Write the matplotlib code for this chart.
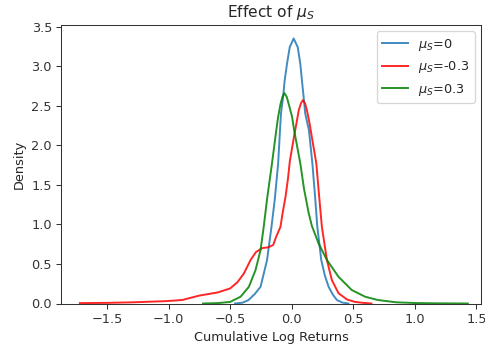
import matplotlib
matplotlib.use("Agg")
import matplotlib.pyplot as plt

# Density curves
blue_x = [-0.46, -0.40, -0.35, -0.30, -0.253, -0.20, -0.164, -0.137, -0.11, -0.095,
          -0.087, -0.07, -0.057, -0.038, -0.016, 0.016, 0.049, 0.07, 0.083, 0.097,
          0.11, 0.14, 0.168, 0.19, 0.208, 0.24, 0.27, 0.30, 0.335, 0.367, 0.41, 0.46]
blue_y = [0.0, 0.01, 0.044, 0.12, 0.21, 0.55, 0.97, 1.32, 1.77, 2.19,
          2.40, 2.61, 2.82, 3.03, 3.24, 3.35, 3.24, 3.03, 2.82, 2.61,
          2.40, 2.19, 1.77, 1.35, 0.97, 0.55, 0.35, 0.21, 0.11, 0.044, 0.012, 0.0]

red_x = [-1.72, -1.50, -1.29, -1.02, -0.89, -0.75, -0.60, -0.50, -0.44, -0.388,
         -0.334, -0.29, -0.24, -0.19, -0.15, -0.127, -0.091, -0.073, -0.05, -0.03,
         -0.015, 0.02, 0.038, 0.057, 0.075, 0.091, 0.108, 0.124, 0.146, 0.164,
         0.20, 0.222, 0.245, 0.286, 0.326, 0.38, 0.45, 0.515, 0.58, 0.647]
red_y = [0.005, 0.008, 0.015, 0.03, 0.044, 0.10, 0.14, 0.19, 0.27, 0.38,
         0.55, 0.65, 0.70, 0.71, 0.74, 0.84, 0.97, 1.15, 1.35, 1.58,
         1.80, 2.12, 2.27, 2.44, 2.53, 2.57, 2.53, 2.44, 2.27, 2.10,
         1.77, 1.37, 0.97, 0.55, 0.296, 0.13, 0.05, 0.02, 0.008, 0.0]

green_x = [-0.72, -0.60, -0.50, -0.415, -0.348, -0.294, -0.253, -0.227, -0.20, -0.16,
           -0.125, -0.11, -0.091, -0.075, -0.059, -0.04, -0.024, 0.003, 0.02, 0.07,
           0.10, 0.137, 0.164, 0.218, 0.286, 0.38, 0.488, 0.596, 0.70, 0.85,
           1.0, 1.2, 1.43]
green_y = [0.0, 0.005, 0.02, 0.086, 0.21, 0.42, 0.675, 0.97, 1.32, 1.77,
           2.19, 2.36, 2.52, 2.61, 2.66, 2.61, 2.52, 2.36, 2.19, 1.77,
           1.45, 1.15, 0.98, 0.76, 0.55, 0.338, 0.17, 0.086, 0.044, 0.015,
           0.006, 0.002, 0.0]

labels = [r'$\mu_S$=0', r'$\mu_S$=-0.3', r'$\mu_S$=0.3']
xticks = [-1.5, -1.0, -0.5, 0.0, 0.5, 1.0, 1.5]
yticks = [0.0, 0.5, 1.0, 1.5, 2.0, 2.5, 3.0, 3.5]

txt = '#262626'
plt.rcParams.update({'text.color': txt, 'axes.labelcolor': txt,
                     'xtick.color': '#333333', 'ytick.color': '#333333',
                     'axes.edgecolor': '#333333', 'font.size': 10})

DPI = 93
fig = plt.figure(figsize=(485/DPI, 347/DPI), dpi=DPI)
ax = fig.add_axes([61/485, 1-303.5/347, (481-61)/485, (303.5-25)/347])

ax.plot(blue_x, blue_y, color='#1f77b4', alpha=0.85, lw=1.5, label=labels[0])
ax.plot(red_x, red_y, color='red', alpha=0.85, lw=1.5, label=labels[1])
ax.plot(green_x, green_y, color='green', alpha=0.85, lw=1.5, label=labels[2])

ax.set_xlim(-1.873, 1.537)
ax.set_ylim(0, 3.52)
ax.set_xticks(xticks)
ax.set_yticks(yticks)
ax.set_xlabel('Cumulative Log Returns')
ax.set_ylabel('Density')
ax.set_title(r'Effect of $\mu_S$', fontsize=12)
ax.legend(loc='upper right')

fig.savefig('out.png', dpi=DPI)
